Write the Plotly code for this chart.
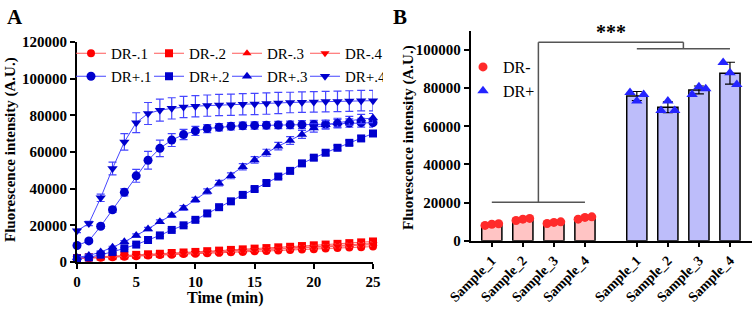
import numpy as np
import plotly.graph_objects as go

# ---------------- data: panel A ----------------
time_min = list(range(26))
dr_minus_names = ["DR-.1", "DR-.2", "DR-.3", "DR-.4"]
dr_plus_names = ["DR+.1", "DR+.2", "DR+.3", "DR+.4"]

dr_minus_1 = [1800, 2000, 2300, 2600, 2900, 3200, 3500, 3800, 4000, 4300, 4500, 4800, 5000,
              5300, 5500, 5800, 6000, 6300, 6500, 6800, 7000, 7300, 7600, 7900, 8100, 8400]
dr_minus_2 = [2200, 2500, 2900, 3200, 3500, 3900, 4200, 4500, 4900, 5200, 5500, 5900, 6200,
              6600, 6900, 7300, 7600, 8000, 8300, 8700, 9100, 9500, 9900, 10300, 10700, 11200]
dr_minus_3 = [2000, 2300, 2600, 3000, 3300, 3600, 3900, 4200, 4500, 4800, 5100, 5400, 5700,
              6000, 6300, 6600, 7000, 7300, 7600, 8000, 8300, 8700, 9000, 9400, 9700, 10100]
dr_minus_4 = [1900, 2200, 2500, 2800, 3100, 3400, 3700, 4000, 4300, 4600, 4900, 5200, 5500,
              5800, 6100, 6400, 6700, 7000, 7300, 7600, 7900, 8300, 8600, 8900, 9200, 9500]
dr_minus_err = [300, 300, 350, 400, 400, 450, 450, 500, 500, 550, 550, 600, 600,
                650, 650, 700, 700, 700, 750, 750, 800, 800, 850, 850, 900, 900]

dr_plus_1 = [9000, 11500, 19500, 28500, 38000, 47000, 55500, 62000, 66500, 69500, 71500, 72800, 73500,
             74000, 74300, 74500, 74600, 74700, 74800, 74900, 75000, 75200, 75500, 75800, 76000, 76000]
dr_plus_1_err = [800, 1000, 1200, 1500, 2000, 3500, 4800, 4500, 3500, 2800, 2500, 2200, 2000,
                 2000, 2000, 2000, 2000, 2000, 2000, 2200, 2200, 2200, 2300, 2300, 2400, 2400]
dr_plus_2 = [2000, 2500, 4000, 5500, 7500, 9500, 12000, 14500, 17500, 20000, 23000, 26500, 29900,
             33100, 36600, 39800, 43100, 46600, 49700, 53800, 56900, 59600, 62300, 65000, 67400, 70100]
dr_plus_2_err = [300, 300, 400, 400, 500, 500, 600, 600, 700, 700, 800, 800, 900,
                 900, 1000, 1000, 1000, 1100, 1100, 1200, 1200, 1300, 1300, 1400, 1400, 1500]
dr_plus_3 = [2500, 3500, 5500, 8000, 11000, 14500, 18000, 22000, 25500, 29500, 34000, 38500, 43000,
             47000, 52000, 55700, 59600, 63200, 66300, 69600, 73100, 74800, 76000, 77000, 78000, 78500]
dr_plus_3_err = [300, 400, 500, 600, 700, 800, 900, 1000, 1100, 1200, 1300, 1400, 1500,
                 1600, 1700, 1800, 1900, 2000, 2100, 2200, 2300, 2300, 2400, 2400, 2500, 2500]
dr_plus_4 = [17000, 21000, 35000, 51000, 65500, 76000, 81000, 82800, 83800, 84500, 85000, 85300, 85600,
             85800, 86000, 86200, 86400, 86700, 87000, 87200, 87300, 87500, 87600, 87800, 88000, 88000]
dr_plus_4_err = [1000, 1200, 2000, 3500, 4500, 5400, 6000, 6000, 5800, 5800, 5800, 5800, 5800,
                 5800, 5800, 5800, 5800, 5800, 5600, 5600, 5600, 5600, 5600, 5600, 5600, 5600]

# ---------------- data: panel B ----------------
sample_labels = ["Sample_1", "Sample_2", "Sample_3", "Sample_4"]
dr_minus_reps = [[8000, 8600, 8900], [10600, 11300, 11700], [9000, 9600, 9900], [11300, 12200, 12500]]
dr_plus_reps = [[77700, 73200, 76700], [68300, 73200, 68300], [76700, 80700, 79700], [93400, 88100, 81900]]

# ---------------- styles ----------------
FONT = "Liberation Serif"
RED = "#FF0000"
RED_LINE = "#FF5A5A"
BLUE = "#0000CD"
BLUE_LINE = "#4646FF"
symbols = ["circle", "square", "triangle-up", "triangle-down"]

W, H = 754, 309


def fx(p):
    return p / W


def fy(p):
    return 1 - p / H


fig = go.Figure()

minus_series = [dr_minus_1, dr_minus_2, dr_minus_3, dr_minus_4]
for name, ys, sym in zip(dr_minus_names, minus_series, symbols):
    fig.add_trace(go.Scatter(
        x=time_min, y=ys, name=name, mode="lines+markers",
        line=dict(color=RED_LINE, width=1),
        marker=dict(symbol=sym, size=8, color=RED),
        error_y=dict(type="data", array=dr_minus_err, color=RED_LINE, thickness=1, width=3),
        xaxis="x", yaxis="y", legend="legend", cliponaxis=False))

plus_series = [dr_plus_1, dr_plus_2, dr_plus_3, dr_plus_4]
plus_errs = [dr_plus_1_err, dr_plus_2_err, dr_plus_3_err, dr_plus_4_err]
for name, ys, es, sym in zip(dr_plus_names, plus_series, plus_errs, symbols):
    fig.add_trace(go.Scatter(
        x=time_min, y=ys, name=name, mode="lines+markers",
        line=dict(color=BLUE_LINE, width=1),
        marker=dict(symbol=sym, size=8 if sym == "square" else 9, color=BLUE),
        error_y=dict(type="data", array=es, color=BLUE_LINE, thickness=1.2, width=4),
        xaxis="x", yaxis="y", legend="legend2", cliponaxis=False))

# ---------------- panel B ----------------
group_gap = 1.67
pos_minus = np.arange(len(sample_labels), dtype=float)
pos_plus = pos_minus + len(sample_labels) - 1 + group_gap
jitter = np.array([-0.22, 0.0, 0.22])

minus_arr = np.array(dr_minus_reps, dtype=float)
plus_arr = np.array(dr_plus_reps, dtype=float)

fig.add_trace(go.Bar(
    x=pos_minus, y=minus_arr.mean(axis=1), width=0.65,
    marker=dict(color="#FFC4C4", line=dict(color="black", width=1.5)),
    error_y=dict(type="data", array=minus_arr.std(axis=1, ddof=1), color="black", thickness=1.2, width=5),
    xaxis="x2", yaxis="y2", showlegend=False))
fig.add_trace(go.Bar(
    x=pos_plus, y=plus_arr.mean(axis=1), width=0.65,
    marker=dict(color="#BDBDFA", line=dict(color="black", width=1.5)),
    error_y=dict(type="data", array=plus_arr.std(axis=1, ddof=1), color="black", thickness=1.2, width=5),
    xaxis="x2", yaxis="y2", showlegend=False))

fig.add_trace(go.Scatter(
    x=(pos_minus[:, None] + jitter[None, :]).ravel(), y=minus_arr.ravel(),
    mode="markers", name="DR-",
    marker=dict(symbol="circle", size=9, color="#FF2A2A"),
    xaxis="x2", yaxis="y2", legend="legend3", cliponaxis=False))
fig.add_trace(go.Scatter(
    x=(pos_plus[:, None] + jitter[None, :]).ravel(), y=plus_arr.ravel(),
    mode="markers", name="DR+",
    marker=dict(symbol="triangle-up", size=10, color="#2424FF"),
    xaxis="x2", yaxis="y2", legend="legend3", cliponaxis=False))

# significance bracket
c_minus = pos_minus.mean()
c_plus = pos_plus.mean()
low_y, top_y, right_y = 20200, 104000, 100700
br = dict(color="#555555", width=1.5)
shapes = [
    dict(type="line", xref="x2", yref="y2", x0=pos_minus[0], x1=pos_minus[-1], y0=low_y, y1=low_y, line=br),
    dict(type="line", xref="x2", yref="y2", x0=c_minus, x1=c_minus, y0=low_y, y1=top_y, line=br),
    dict(type="line", xref="x2", yref="y2", x0=c_minus, x1=c_plus, y0=top_y, y1=top_y, line=br),
    dict(type="line", xref="x2", yref="y2", x0=c_plus, x1=c_plus, y0=top_y, y1=right_y, line=br),
    dict(type="line", xref="x2", yref="y2", x0=pos_plus[0], x1=pos_plus[-1], y0=right_y, y1=right_y, line=br),
]

tickfont = dict(family=FONT, size=15, color="black", weight="bold")
axis_common = dict(showline=True, linewidth=2, linecolor="black", showgrid=False, zeroline=False,
                   ticks="outside", ticklen=5, tickwidth=2, tickcolor="black", tickfont=tickfont,
                   automargin=False)

annotations = [
    dict(text="A", x=fx(5), y=fy(3), xref="paper", yref="paper", xanchor="left", yanchor="top",
         showarrow=False, font=dict(family=FONT, size=21, color="black", weight="bold")),
    dict(text="B", x=fx(391), y=fy(3), xref="paper", yref="paper", xanchor="left", yanchor="top",
         showarrow=False, font=dict(family=FONT, size=21, color="black", weight="bold")),
    dict(text="Fluorescence intensity (A.U.)", x=fx(10), y=fy(150), xref="paper", yref="paper",
         xanchor="center", yanchor="middle",
         textangle=-90, showarrow=False, font=dict(family=FONT, size=15, color="black", weight="bold")),
    dict(text="Fluorescence intensity (A.U.)", x=fx(408), y=fy(138), xref="paper", yref="paper",
         xanchor="center", yanchor="middle",
         textangle=-90, showarrow=False, font=dict(family=FONT, size=15, color="black", weight="bold")),
    dict(text="Time (min)", x=fx(225), y=fy(298), xref="paper", yref="paper",
         xanchor="center", yanchor="middle",
         showarrow=False, font=dict(family=FONT, size=16, color="black", weight="bold")),
    dict(text="***", x=(c_minus + c_plus) / 2, y=top_y, xref="x2", yref="y2", yanchor="bottom",
         yshift=-3, showarrow=False, font=dict(family=FONT, size=20, color="black", weight="bold")),
]

legend_font = dict(family=FONT, size=15, color="black")
leg_common = dict(orientation="h", xanchor="left", yanchor="top", bgcolor="rgba(0,0,0,0)",
                  font=legend_font, itemwidth=30, entrywidth=33, borderwidth=0)
fig.update_layout(
    width=W, height=H, margin=dict(l=0, r=0, t=0, b=0, autoexpand=False),
    paper_bgcolor="white", plot_bgcolor="white",
    font=dict(family=FONT, color="black"),
    barmode="overlay",
    xaxis=dict(domain=[fx(77), fx(373)], range=[0, 25], dtick=5, anchor="y", **axis_common),
    yaxis=dict(domain=[fy(262), fy(42)], range=[0, 120000], dtick=20000, tickformat="d", anchor="x",
               **axis_common),
    xaxis2=dict(domain=[fx(470.7), fx(751.7)], range=[-0.68, 8.37], anchor="y2",
                tickmode="array", tickvals=list(pos_minus) + list(pos_plus),
                ticktext=sample_labels + sample_labels, tickangle=-45, automargin=False,
                showline=True, linewidth=2, linecolor="black", showgrid=False, zeroline=False,
                ticks="outside", ticklen=4, tickwidth=2, tickcolor="black",
                tickfont=dict(family=FONT, size=14, color="black", weight="bold")),
    yaxis2=dict(domain=[fy(240.7), fy(30.9)], range=[0, 110000], dtick=20000,
                tickformat="d", anchor="x2", **axis_common),
    legend=dict(x=fx(71), y=fy(37), **leg_common),
    legend2=dict(x=fx(71), y=fy(60), **leg_common),
    legend3=dict(orientation="v", x=fx(463), y=fy(50), xanchor="left", yanchor="top",
                 bgcolor="rgba(0,0,0,0)", font=dict(family=FONT, size=16, color="black"), itemwidth=30),
    shapes=shapes,
    annotations=annotations,
)

# remove the browser's default 8 px body margin so the figure sits at the window corner
fig.write_html("out.html", config={"displayModeBar": False},
               post_script="document.body.style.margin='0px';")
